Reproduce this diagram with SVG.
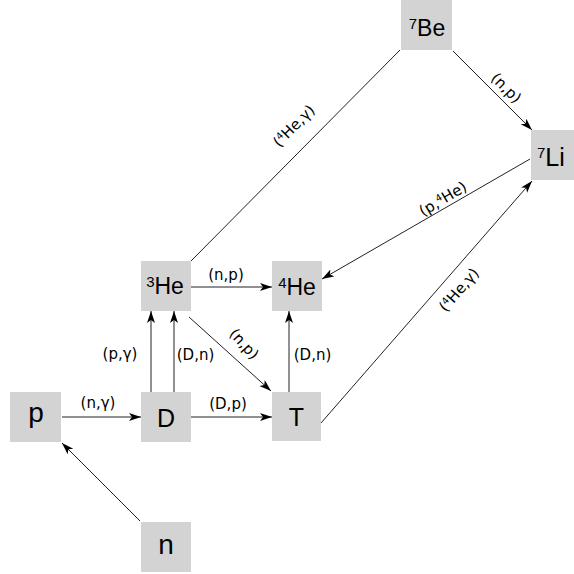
<svg xmlns="http://www.w3.org/2000/svg" width="574" height="574" viewBox="0 0 574 574">
<style>
.box{fill:#d3d3d3;}
.nl{font-family:"Liberation Sans",Arial,sans-serif;fill:#000;text-anchor:middle;}
.el{font-family:"DejaVu Sans",sans-serif;font-size:15px;fill:#000;text-anchor:middle;}
.ln{stroke:#222;stroke-width:1;fill:none;}
.ar{marker-end:url(#arr);}
</style>
<defs>
<marker id="arr" markerUnits="userSpaceOnUse" markerWidth="13" markerHeight="9" refX="12" refY="4" orient="auto">
<path d="M0,0 L12,4 L0,8 L3,4 z" fill="#000"/>
</marker>
</defs>
<rect width="574" height="574" fill="#fff"/>
<g id="connectors">
<path class="ln ar" d="M140,521 L62,443"/>
<path class="ln ar" d="M62,417 L141,417"/>
<path class="ln ar" d="M191,417 L272,417"/>
<path class="ln ar" d="M151,392 L151,311"/>
<path class="ln ar" d="M174,392 L174,311"/>
<path class="ln ar" d="M191,287 L272,287"/>
<path class="ln ar" d="M189,317 L271,391"/>
<path class="ln ar" d="M289,392 L289,311"/>
<path class="ln ar" d="M321,423 L532,181"/>
<path class="ln ar" d="M530,159 L322,279"/>
<path class="ln" d="M400,50 L191,261"/>
<path class="ln ar" d="M453,51 L532,130"/>
<text class="el" x="98" y="408">(n,γ)</text>
<text class="el" x="228" y="409">(D,p)</text>
<text class="el" x="226" y="280">(n,p)</text>
<text class="el" x="120" y="358.5">(p,γ)</text>
<text class="el" x="195.5" y="360">(D,n)</text>
<text class="el" x="312.5" y="360">(D,n)</text>
<text class="el" transform="translate(244,344) rotate(48)" y="5">(n,p)</text>
<text class="el" transform="translate(294,126) rotate(-45)" y="5">(<tspan font-size="9.5" dy="-5">4</tspan><tspan dy="5">He,γ)</tspan></text>
<text class="el" transform="translate(443,199) rotate(-31)" y="5">(p,<tspan font-size="9.5" dy="-5">4</tspan><tspan dy="5">He)</tspan></text>
<text class="el" transform="translate(459,290) rotate(-49)" y="5">(<tspan font-size="9.5" dy="-5">4</tspan><tspan dy="5">He,γ)</tspan></text>
<text class="el" transform="translate(506,88) rotate(45)" y="5">(n,p)</text>
</g>
<g id="node-7Be">
<rect class="box" x="401" y="0" width="51" height="50"/>
<text class="nl" x="427" y="36" font-size="23"><tspan font-size="15" dy="-7">7</tspan><tspan dy="7">Be</tspan></text>
</g>
<g id="node-7Li">
<rect class="box" x="531" y="130" width="51" height="50"/>
<text class="nl" x="537" y="165.5" font-size="25" style="text-anchor:start"><tspan font-size="15" dy="-8">7</tspan><tspan dy="8">Li</tspan></text>
</g>
<g id="node-3He">
<rect class="box" x="141" y="261" width="50" height="50"/>
<text class="nl" x="165" y="294" font-size="23"><tspan font-size="15" dy="-7">3</tspan><tspan dy="7">He</tspan></text>
</g>
<g id="node-4He">
<rect class="box" x="272" y="261" width="50" height="50"/>
<text class="nl" x="297" y="295" font-size="23"><tspan font-size="15" dy="-7">4</tspan><tspan dy="7">He</tspan></text>
</g>
<g id="node-p">
<rect class="box" x="10" y="392" width="51" height="50"/>
<text class="nl" x="36" y="422" font-size="28">p</text>
</g>
<g id="node-D">
<rect class="box" x="141" y="392" width="50" height="50"/>
<text class="nl" x="166" y="427" font-size="25">D</text>
</g>
<g id="node-T">
<rect class="box" x="272" y="392" width="49" height="49"/>
<text class="nl" x="296.5" y="426" font-size="25">T</text>
</g>
<g id="node-n">
<rect class="box" x="141" y="522" width="50" height="50"/>
<text class="nl" x="166" y="554" font-size="28">n</text>
</g>
</svg>
